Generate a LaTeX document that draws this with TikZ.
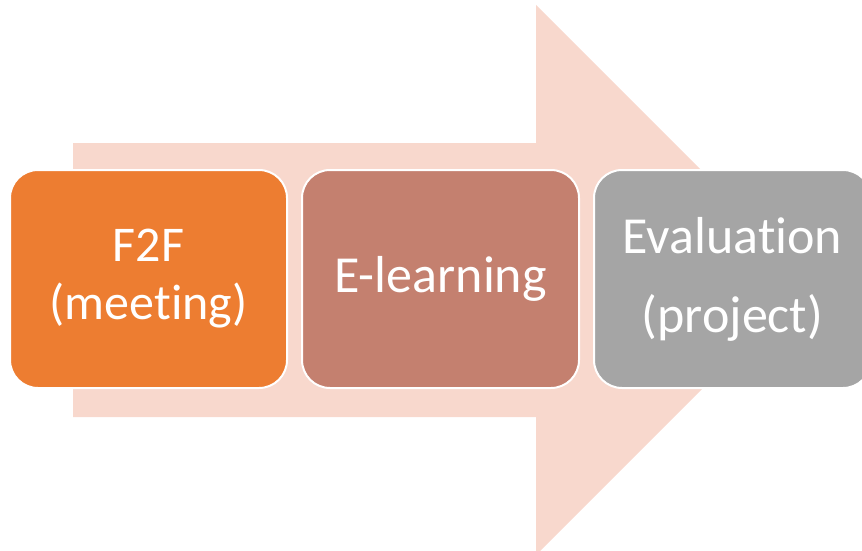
\documentclass[tikz,border=0pt]{standalone}
\usepackage{fontspec}
\setmainfont{Carlito}[Ligatures=NoCommon]
\usepackage{xcolor}
\usetikzlibrary{positioning}
\definecolor{arrowpink}{HTML}{F8D8CD}
\definecolor{stepone}{HTML}{ED7D31}
\definecolor{steptwo}{HTML}{C4806F}
\definecolor{stepthree}{HTML}{A5A5A5}

\begin{document}
\begin{tikzpicture}[x=1pt, y=-1pt]
    \tikzstyle{block}=[draw=white, line width=2pt, rectangle, rounded corners=28pt, minimum width=277pt, minimum height=218pt, inner sep=0pt, outer sep=0pt, text=white, align=center]

    \clip (0,0) rectangle (862,551);

    % big arrow behind the steps
    \fill[arrowpink] (73,143) -- (536,143) -- (536,5) -- (811,280) -- (536,555) -- (536,417) -- (73,417) -- cycle;

	\node[block, fill=stepone, font=\fontsize{50}{58}\selectfont] (f2f) at (148.5,279) {F2F\\(meeting)};
	\node[block, fill=steptwo, right=15pt of f2f, font=\fontsize{52}{62}\selectfont] (elearn) {E-learning};
	\node[block, fill=stepthree, right=15pt of elearn, font=\fontsize{52}{79}\selectfont] (eval) {Evaluation\\(project)};

\end{tikzpicture}
\end{document}
